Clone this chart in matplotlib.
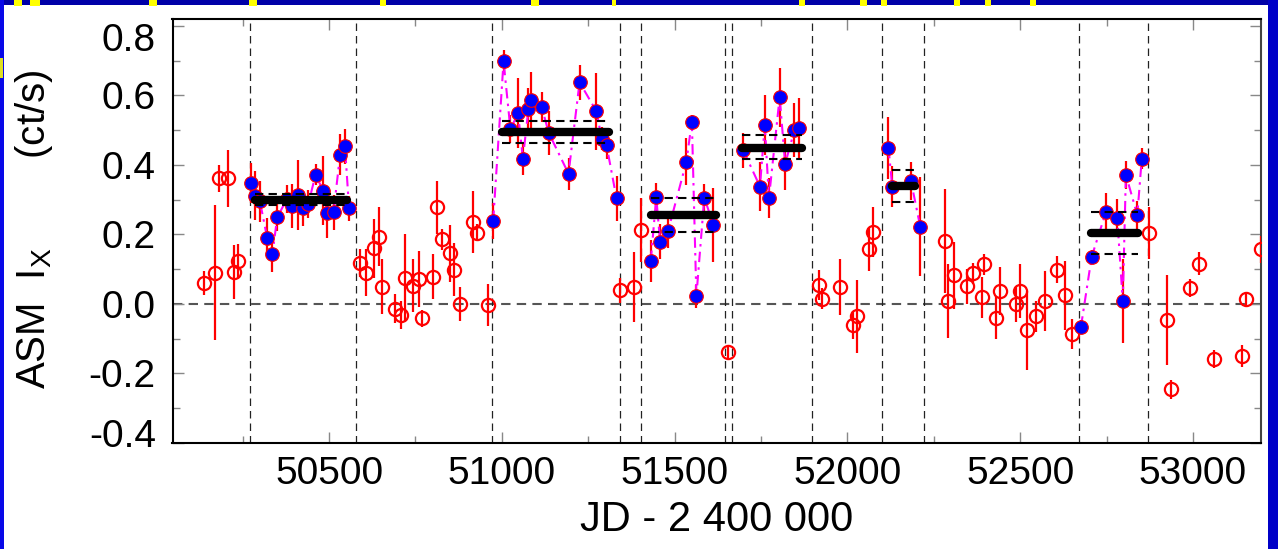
import matplotlib
matplotlib.use("Agg")
import numpy as np
import matplotlib.pyplot as plt
from matplotlib.patches import Rectangle
from matplotlib.transforms import ScaledTranslation

plt.rcParams["font.family"] = ["Liberation Sans", "DejaVu Sans"]
plt.rcParams["mathtext.fontset"] = "custom"
plt.rcParams["mathtext.rm"] = "Liberation Sans"
plt.rcParams["mathtext.default"] = "regular"

# ---------------------------------------------------------------------------
# ASM light curve, quiescent (open) points
# ---------------------------------------------------------------------------
off_jd = [50139, 50170, 50182, 50209, 50225, 50237,
          50589, 50608, 50629, 50644, 50654, 50692, 50707, 50721, 50744,
          50760, 50769, 50802, 50812, 50828, 50849, 50863, 50878, 50917,
          50927, 50960,
          51343, 51382, 51403, 51655,
          51917, 51926, 51978, 52017, 52029, 52064, 52075,
          52283, 52291, 52310, 52346, 52365, 52391, 52395, 52429, 52443,
          52488, 52501, 52521, 52545, 52572, 52606, 52630, 52651,
          52874, 52924, 52936, 52992, 53017, 53061, 53142, 53155, 53196]
off_rate = [0.061, 0.090, 0.362, 0.362, 0.092, 0.124,
            0.117, 0.090, 0.160, 0.193, 0.050, -0.013, -0.032, 0.076, 0.053,
            0.072, -0.041, 0.078, 0.278, 0.186, 0.146, 0.099, 0.000, 0.236,
            0.205, -0.002,
            0.040, 0.049, 0.212, -0.139,
            0.055, 0.015, 0.048, -0.060, -0.036, 0.157, 0.208,
            0.182, 0.008, 0.082, 0.051, 0.088, 0.019, 0.114, -0.039, 0.037,
            -0.001, 0.037, -0.076, -0.036, 0.008, 0.099, 0.025, -0.086,
            0.204, -0.046, -0.245, 0.046, 0.116, -0.158, -0.149, 0.015, 0.157]
off_err = [0.034, 0.195, 0.039, 0.082, 0.077, 0.048,
           0.040, 0.068, 0.085, 0.085, 0.080, 0.043, 0.041, 0.125, 0.077,
           0.080, 0.024, 0.065, 0.077, 0.030, 0.082, 0.077, 0.048, 0.090,
           0.024, 0.060,
           0.036, 0.100, 0.092, 0.020,
           0.043, 0.030, 0.080, 0.040, 0.106, 0.063, 0.072,
           0.150, 0.106, 0.097, 0.050, 0.031, 0.058, 0.031, 0.063, 0.068,
           0.050, 0.077, 0.113, 0.046, 0.087, 0.039, 0.099, 0.043,
           0.075, 0.130, 0.027, 0.026, 0.033, 0.027, 0.031, 0.020, 0.040]

# ---------------------------------------------------------------------------
# Active episodes (filled points), tagged by episode number
# ---------------------------------------------------------------------------
on_episode = [1] * 18 + [2] * 15 + [3] * 9 + [4] * 8 + [5] * 4 + [6] * 8
on_jd = [50273, 50287, 50300, 50321, 50336, 50350, 50378, 50393, 50411,
         50424, 50440, 50461, 50483, 50495, 50513, 50532, 50546, 50558,
         50975, 51005, 51025, 51047, 51061, 51077, 51085, 51115, 51136,
         51193, 51225, 51274, 51289, 51303, 51332,
         51431, 51447, 51458, 51481, 51534, 51550, 51563, 51586, 51612,
         51699, 51747, 51761, 51773, 51804, 51820, 51847, 51860,
         52119, 52130, 52184, 52211,
         52676, 52707, 52748, 52781, 52797, 52806, 52839, 52852]
on_rate = [0.348, 0.312, 0.295, 0.190, 0.143, 0.249, 0.302, 0.283, 0.314,
           0.275, 0.288, 0.372, 0.326, 0.261, 0.264, 0.430, 0.454, 0.275,
           0.239, 0.698, 0.503, 0.549, 0.418, 0.561, 0.586, 0.568, 0.492,
           0.375, 0.638, 0.554, 0.476, 0.457, 0.304,
           0.124, 0.307, 0.179, 0.210, 0.409, 0.525, 0.022, 0.306, 0.228,
           0.442, 0.338, 0.515, 0.304, 0.595, 0.404, 0.500, 0.507,
           0.449, 0.338, 0.354, 0.222,
           -0.065, 0.136, 0.264, 0.247, 0.008, 0.372, 0.256, 0.418]
on_err = [0.058, 0.070, 0.060, 0.058, 0.050, 0.040, 0.040, 0.063, 0.100,
          0.050, 0.040, 0.030, 0.100, 0.070, 0.050, 0.060, 0.050, 0.035,
          0.053, 0.034, 0.040, 0.100, 0.048, 0.060, 0.082, 0.043, 0.063,
          0.046, 0.050, 0.110, 0.034, 0.040, 0.065,
          0.060, 0.041, 0.050, 0.050, 0.068, 0.020, 0.033, 0.039, 0.106,
          0.050, 0.070, 0.087, 0.058, 0.085, 0.075, 0.077, 0.087,
          0.090, 0.060, 0.055, 0.142,
          0.020, 0.020, 0.055, 0.055, 0.120, 0.040, 0.040, 0.030]

# mean level of each episode with its +/- 1 sigma band
mean_t0 = [50285, 51000, 51433, 51696, 52128, 52704]
mean_t1 = [50553, 51310, 51619, 51868, 52197, 52840]
mean_level = [0.299, 0.494, 0.256, 0.450, 0.340, 0.204]
mean_hi = [0.316, 0.527, 0.306, 0.486, 0.386, 0.266]
mean_lo = [0.284, 0.462, 0.208, 0.418, 0.293, 0.145]

# episode boundaries
bounds_jd = [50271, 50577, 50972, 51342, 51403, 51646, 51666, 51897,
             52101, 52222, 52671, 52870]

RED = "#FF0000"
BLUE = "#0000FF"
MAGENTA = "#FF00FF"

W, H = 1278, 549


def px_rect(fig, x0, y0, x1, y1, color):
    """Rectangle given in pixel coordinates (origin top-left)."""
    fig.add_artist(Rectangle((x0 / W, 1 - y1 / H), (x1 - x0) / W, (y1 - y0) / H,
                             transform=fig.transFigure, facecolor=color,
                             edgecolor="none", zorder=-5))


fig = plt.figure(figsize=(W / 100, H / 100), dpi=100)
ax = fig.add_axes([172.5 / W, 1 - 443 / H, (1261 - 172.5) / W, (443 - 19) / H])

# zero level and episode boundaries
ax.axhline(0, color="#555555", lw=1.5, dashes=(4.5, 3), zorder=1)
for t in bounds_jd:
    ax.axvline(t, color="#222222", lw=0.9, dashes=(6, 4), zorder=1)

# quiescent points
ax.errorbar(off_jd, off_rate, yerr=off_err, fmt="o", ms=9.5, mfc="none",
            mec=RED, mew=1.6, ecolor=RED, elinewidth=1.6, capsize=0, zorder=3)

# active episodes
on_episode = np.array(on_episode)
on_jd = np.array(on_jd)
on_rate = np.array(on_rate)
on_err = np.array(on_err)
for ep in np.unique(on_episode):
    m = on_episode == ep
    ax.errorbar(on_jd[m], on_rate[m], yerr=on_err[m], fmt="none",
                ecolor=RED, elinewidth=1.6, capsize=0, zorder=3)
    ax.plot(on_jd[m], on_rate[m], color=MAGENTA, lw=1.5,
            ls=(0, (5, 2.5, 1.2, 2.5)), zorder=4)
    ax.plot(on_jd[m], on_rate[m], "o", ms=9.8, mfc=BLUE, mec=RED, mew=0.8,
            zorder=5)

for t0, t1, lv, hi, lo in zip(mean_t0, mean_t1, mean_level, mean_hi, mean_lo):
    ax.plot([t0, t1], [lv, lv], color="black", lw=6, solid_capstyle="round",
            zorder=6)
    ax.plot([t0, t1], [hi, hi], color="black", lw=1.5, dashes=(4, 2.5), zorder=6)
    ax.plot([t0, t1], [lo, lo], color="black", lw=1.5, dashes=(4, 2.5), zorder=6)

ax.set_xlim(50047, 53197)
ax.set_ylim(-0.40, 0.82)

ax.set_xticks(np.arange(50500, 53001, 500))
ax.set_xticks(np.arange(50250, 53200, 500), minor=True)
ax.set_yticks(np.arange(-0.4, 0.81, 0.2))
ax.set_yticks(np.arange(-0.3, 0.81, 0.2), minor=True)
ax.set_yticklabels([f"{v:.1f}" for v in np.arange(-0.4, 0.81, 0.2)])
ax.tick_params(which="both", direction="in", top=True, right=True,
               color="#888888", labelsize=28)
ax.tick_params(which="major", length=8, width=1)
ax.tick_params(which="minor", length=5, width=1)
ax.tick_params(axis="y", which="major", pad=12)
ax.tick_params(axis="x", which="major", pad=9)

for sp in ax.spines.values():
    sp.set_linewidth(1.5)
ax.spines["right"].set_color("#444444")

ax.set_xlabel("JD - 2 400 000", fontsize=30, labelpad=6)
ax.set_ylabel("ASM  I$_{X}$        (ct/s)", fontsize=29)
ax.yaxis.set_label_coords(-0.108, 0.505)

# end labels sit a little inside the frame
for tick in ax.yaxis.get_major_ticks():
    v = tick.get_loc()
    if v > 0.75:
        off = ScaledTranslation(0, -11 / 100, fig.dpi_scale_trans)
    elif v < -0.35:
        off = ScaledTranslation(0, 10 / 100, fig.dpi_scale_trans)
    else:
        continue
    tick.label1.set_transform(tick.label1.get_transform() + off)

# slide frame around the figure
px_rect(fig, 0, 0, W, 5, "#0000A8")
px_rect(fig, 0, 0, 4, H, "#0808E8")
px_rect(fig, 1268, 0, W, H, "#0000C8")
for x0, x1 in [(14, 22), (30, 40), (149, 157), (249, 257), (380, 386),
               (531, 539), (612, 616), (799, 805), (860, 867), (881, 887),
               (954, 960), (985, 991), (1030, 1036)]:
    px_rect(fig, x0, 0, x1, 6, "#FFFF00")
px_rect(fig, 0, 58, 3, 78, "#E0E020")

fig.savefig("out.png", dpi=100)
